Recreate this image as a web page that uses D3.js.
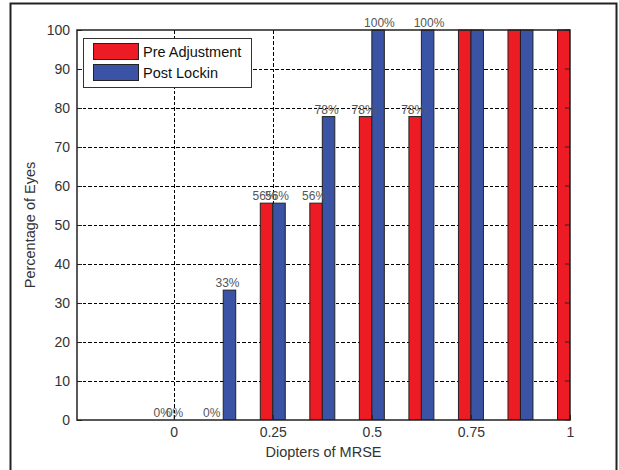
<!DOCTYPE html>
<html>
<head>
<meta charset="utf-8">
<script src="https://cdn.jsdelivr.net/npm/d3@7"></script>
<style>
  body { margin: 0; background: #fff; }
  svg text { font-family: "Liberation Sans", Arial, sans-serif; }
</style>
</head>
<body>
<div id="chart"></div>
<script>
// Bar chart: Pre Adjustment vs Post Lockin

// Data
var groups = [0, 0.125, 0.25, 0.375, 0.5, 0.625, 0.75, 0.875, 1];
var preValues = [0, 0, 55.6, 55.6, 77.8, 77.8, 100, 100, 100];
var postValues = [0, 33.3, 55.6, 77.8, 100, 100, 100, 100, 100];
var seriesNames = ["Pre Adjustment", "Post Lockin"];
var xTicks = [0, 0.25, 0.5, 0.75, 1];
var yTicks = [0, 10, 20, 30, 40, 50, 60, 70, 80, 90, 100];
// only the first groups carry value labels in the figure
var labelledGroups = 6;

// Layout
var width = 619;
var height = 470;
var plotLeft = 77;
var plotRight = 570;
var plotTop = 30;
var plotBottom = 420;
var barW = 0.0315;
var colors = ["#ed1c24", "#3a53a4"];
var textColor = "#333";

var svg = d3
  .select("#chart")
  .append("svg")
  .attr("width", width)
  .attr("height", height);

// Figure frame
svg
  .append("rect")
  .attr("x", 10.5)
  .attr("y", 3.5)
  .attr("width", 606)
  .attr("height", 480)
  .attr("fill", "none")
  .attr("stroke", "#222")
  .attr("stroke-width", 2);

var xScale = d3.scaleLinear().domain([-0.244, 1]).range([plotLeft, plotRight]);
var yScale = d3.scaleLinear().domain([0, 100]).range([plotBottom, plotTop]);

// Grid
var grid = svg.append("g").attr("class", "grid").attr("shape-rendering", "crispEdges");
grid
  .selectAll("line.gx")
  .data(xTicks.slice(0, -1))
  .enter()
  .append("line")
  .attr("x1", function(d) { return Math.round(xScale(d)) + 0.5; })
  .attr("x2", function(d) { return Math.round(xScale(d)) + 0.5; })
  .attr("y1", plotTop)
  .attr("y2", plotBottom)
  .attr("stroke", "#000")
  .attr("stroke-dasharray", "3.5,2");
grid
  .selectAll("line.gy")
  .data(yTicks.slice(1, -1))
  .enter()
  .append("line")
  .attr("x1", plotLeft)
  .attr("x2", plotRight)
  .attr("y1", function(d) { return Math.round(yScale(d)) + 0.5; })
  .attr("y2", function(d) { return Math.round(yScale(d)) + 0.5; })
  .attr("stroke", "#000")
  .attr("stroke-dasharray", "3.5,2");

// Clip bars to the axes box
svg
  .append("clipPath")
  .attr("id", "plotClip")
  .append("rect")
  .attr("x", plotLeft)
  .attr("y", plotTop - 1)
  .attr("width", plotRight - plotLeft)
  .attr("height", plotBottom - plotTop + 1);

var rows = groups.map(function(g, i) {
  return { g: g, vals: [preValues[i], postValues[i]], i: i };
});

var bars = svg.append("g").attr("clip-path", "url(#plotClip)");
[0, 1].forEach(function(s) {
  bars
    .selectAll("rect.s" + s)
    .data(rows)
    .enter()
    .append("rect")
    .attr("x", function(d) { return xScale(d.g + (s - 1) * barW); })
    .attr("width", xScale(barW) - xScale(0))
    .attr("y", function(d) { return yScale(d.vals[s]); })
    .attr("height", function(d) { return plotBottom - yScale(d.vals[s]); })
    .attr("fill", colors[s])
    .attr("stroke", "#222")
    .attr("stroke-width", 1);
});

// Value labels
var labels = svg.append("g");
[0, 1].forEach(function(s) {
  labels
    .selectAll("text.s" + s)
    .data(rows.slice(0, labelledGroups))
    .enter()
    .append("text")
    .attr("x", function(d) { return xScale(d.g + (s - 0.5) * barW) - 14; })
    .attr("y", function(d) { return yScale(d.vals[s]) - 3; })
    .attr("font-size", 12)
    .attr("fill", "#555")
    .text(function(d) { return Math.round(d.vals[s]) + "%"; });
});

// Axes
var xAxis = d3.axisBottom(xScale).tickValues(xTicks).tickFormat(d3.format("")).tickSizeInner(-5).tickSizeOuter(0).tickPadding(7.5);
var yAxis = d3.axisLeft(yScale).tickValues(yTicks).tickSizeInner(-5).tickSizeOuter(0).tickPadding(7);

var gx = svg.append("g").attr("transform", "translate(0," + plotBottom + ")").call(xAxis);
var gy = svg.append("g").attr("transform", "translate(" + plotLeft + ",0)").call(yAxis);
[gx, gy].forEach(function(g) {
  g.select(".domain").remove();
  g.selectAll("line").attr("stroke", "#222");
  g.selectAll("text").attr("font-size", 14).attr("fill", textColor).attr("font-family", "Liberation Sans, Arial, sans-serif");
});

// right side ticks
svg
  .selectAll("line.rt")
  .data(yTicks)
  .enter()
  .append("line")
  .attr("x1", plotRight)
  .attr("x2", plotRight - 5)
  .attr("y1", function(d) { return yScale(d); })
  .attr("y2", function(d) { return yScale(d); })
  .attr("stroke", "#222");

// Axes box
svg
  .append("rect")
  .attr("x", plotLeft)
  .attr("y", plotTop)
  .attr("width", plotRight - plotLeft)
  .attr("height", plotBottom - plotTop)
  .attr("fill", "none")
  .attr("stroke", "#222")
  .attr("stroke-width", 1.5);

// Axis titles
svg
  .append("text")
  .attr("x", (plotLeft + plotRight) / 2)
  .attr("y", 457)
  .attr("text-anchor", "middle")
  .attr("font-size", 14.5)
  .attr("fill", textColor)
  .text("Diopters of MRSE");

svg
  .append("text")
  .attr("transform", "translate(35," + (plotTop + plotBottom) / 2 + ")rotate(-90)")
  .attr("text-anchor", "middle")
  .attr("font-size", 14.5)
  .attr("fill", textColor)
  .text("Percentage of Eyes");

// Legend
var legend = svg.append("g");
legend
  .append("rect")
  .attr("x", 83.5)
  .attr("y", 38.5)
  .attr("width", 168)
  .attr("height", 49)
  .attr("fill", "#fff")
  .attr("stroke", "#333");
seriesNames.forEach(function(name, i) {
  legend
    .append("rect")
    .attr("x", 93.5)
    .attr("y", 43.5 + i * 21)
    .attr("width", 45)
    .attr("height", 16)
    .attr("fill", colors[i])
    .attr("stroke", "#222");
  legend
    .append("text")
    .attr("x", 143)
    .attr("y", 56.5 + i * 21.5)
    .attr("font-size", 14.5)
    .attr("fill", "#111")
    .text(name);
});
</script>
</body>
</html>
